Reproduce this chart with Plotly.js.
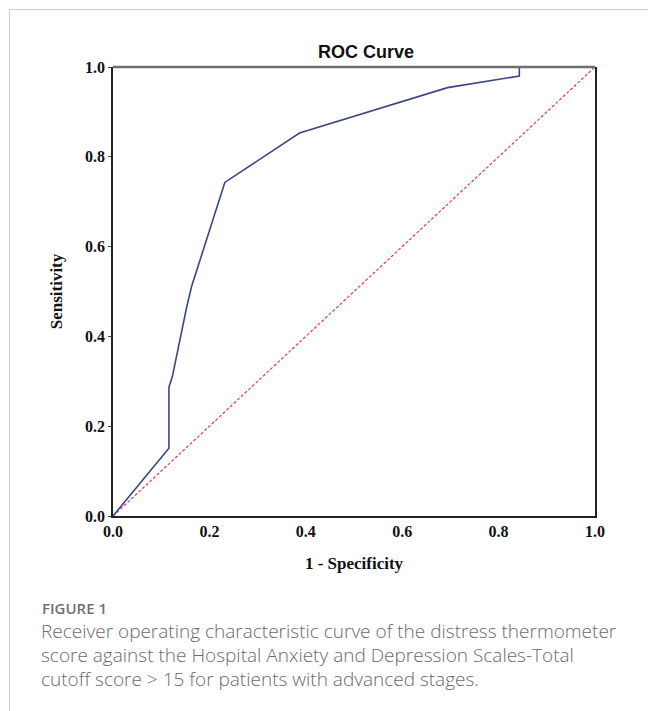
<!DOCTYPE html>
<html>
<head>
<meta charset="utf-8">
<script src="https://cdn.plot.ly/plotly-3.0.1.min.js"></script>
<style>
html,body{margin:0;padding:0;background:#fff;}
#chart{width:648px;height:711px;}
</style>
</head>
<body>
<div id="chart"></div>
<script>
// ROC curve points (1 - Specificity, Sensitivity)
var fpr = [0, 0.116, 0.116, 0.123, 0.153, 0.163, 0.232, 0.387, 0.694, 0.843, 0.843, 1.0];
var tpr = [0, 0.151, 0.287, 0.310, 0.466, 0.511, 0.743, 0.853, 0.954, 0.980, 1.0, 1.0];
// Reference (chance) line
var refX = [0, 1];
var refY = [0, 1];
var tickVals = [0, 0.2, 0.4, 0.6, 0.8, 1.0];
var tickText = ["0.0", "0.2", "0.4", "0.6", "0.8", "1.0"];
var captionTitle = "FIGURE 1";
var captionLines = [
  "Receiver operating characteristic curve of the distress thermometer",
  "score against the Hospital Anxiety and Depression Scales-Total",
  "cutoff score &gt; 15 for patients with advanced stages."
];

var W = 648, H = 711;
var L = 113, R = 595, T = 67, B = 516;
function px2x(p){ return (p - L) / (R - L); }
function py2y(p){ return (B - p) / (B - T); }

var traces = [
  {x: refX, y: refY, mode: 'lines', line: {color: '#e23a55', width: 1.2, dash: '3px,2px'}, hoverinfo: 'skip'},
  {x: fpr, y: tpr, mode: 'lines', line: {color: '#3b4785', width: 1.6}, hoverinfo: 'skip'}
];

var serif = 'Liberation Serif, Times New Roman, serif';
var capFont = 'Open Sans, Noto Sans, sans-serif';

var annotations = [
  {text: captionTitle, xref: 'paper', yref: 'paper', x: px2x(40), y: py2y(608), xanchor: 'left', yanchor: 'middle', showarrow: false,
   font: {family: capFont, size: 15, color: '#707070', weight: 600}}
];
var lineY = [631, 655, 679];
for (var i = 0; i < captionLines.length; i++) {
  annotations.push({text: captionLines[i], xref: 'paper', yref: 'paper', x: px2x(39), y: py2y(lineY[i]), xanchor: 'left', yanchor: 'middle', showarrow: false,
    font: {family: capFont, size: 19, color: '#6a6a6a', weight: 300}});
}

var shapes = [
  // outer light frame lines
  {type: 'line', xref: 'paper', yref: 'paper', x0: px2x(9), x1: px2x(648), y0: py2y(9.5), y1: py2y(9.5), line: {color: '#cccccc', width: 1}},
  {type: 'line', xref: 'paper', yref: 'paper', x0: px2x(9.5), x1: px2x(9.5), y0: py2y(9), y1: py2y(711), line: {color: '#cccccc', width: 1}},
  // top border of plot (gray)
  {type: 'line', xref: 'paper', yref: 'paper', x0: 0, x1: 1, y0: 1, y1: 1, line: {color: '#6f6f6f', width: 2.5}}
];

var layout = {
  width: W, height: H,
  margin: {l: L, r: W - R, t: T, b: H - B, pad: 0},
  paper_bgcolor: '#ffffff', plot_bgcolor: '#ffffff',
  showlegend: false,
  title: {text: 'ROC Curve', xref: 'paper', x: px2x(366), xanchor: 'center', yref: 'container', y: 1 - 52/H, yanchor: 'middle',
          font: {family: 'Liberation Sans, Arial, sans-serif', size: 18, color: '#111', weight: 'bold'}},
  xaxis: {
    range: [0, 1], tickvals: tickVals, ticktext: tickText, showgrid: false, zeroline: false,
    showline: true, linecolor: '#222', linewidth: 1.5, mirror: false, ticks: '', ticklen: 0,
    tickfont: {family: serif, size: 16, color: '#111', weight: 'bold'},
    title: {text: '1 - Specificity', font: {family: serif, size: 17, color: '#111', weight: 'bold'}, standoff: 18}
  },
  yaxis: {
    range: [0, 1], tickvals: tickVals, ticktext: tickText, showgrid: false, zeroline: false,
    showline: true, linecolor: '#222', linewidth: 1.8, mirror: true, ticks: 'outside', ticklen: 3, tickcolor: '#444',
    tickfont: {family: serif, size: 16, color: '#111', weight: 'bold'},
    title: {text: 'Sensitivity', font: {family: serif, size: 17, color: '#111', weight: 'bold'}, standoff: 18}
  },
  annotations: annotations,
  shapes: shapes
};

Plotly.newPlot('chart', traces, layout, {staticPlot: true, displayModeBar: false});
</script>
</body>
</html>
